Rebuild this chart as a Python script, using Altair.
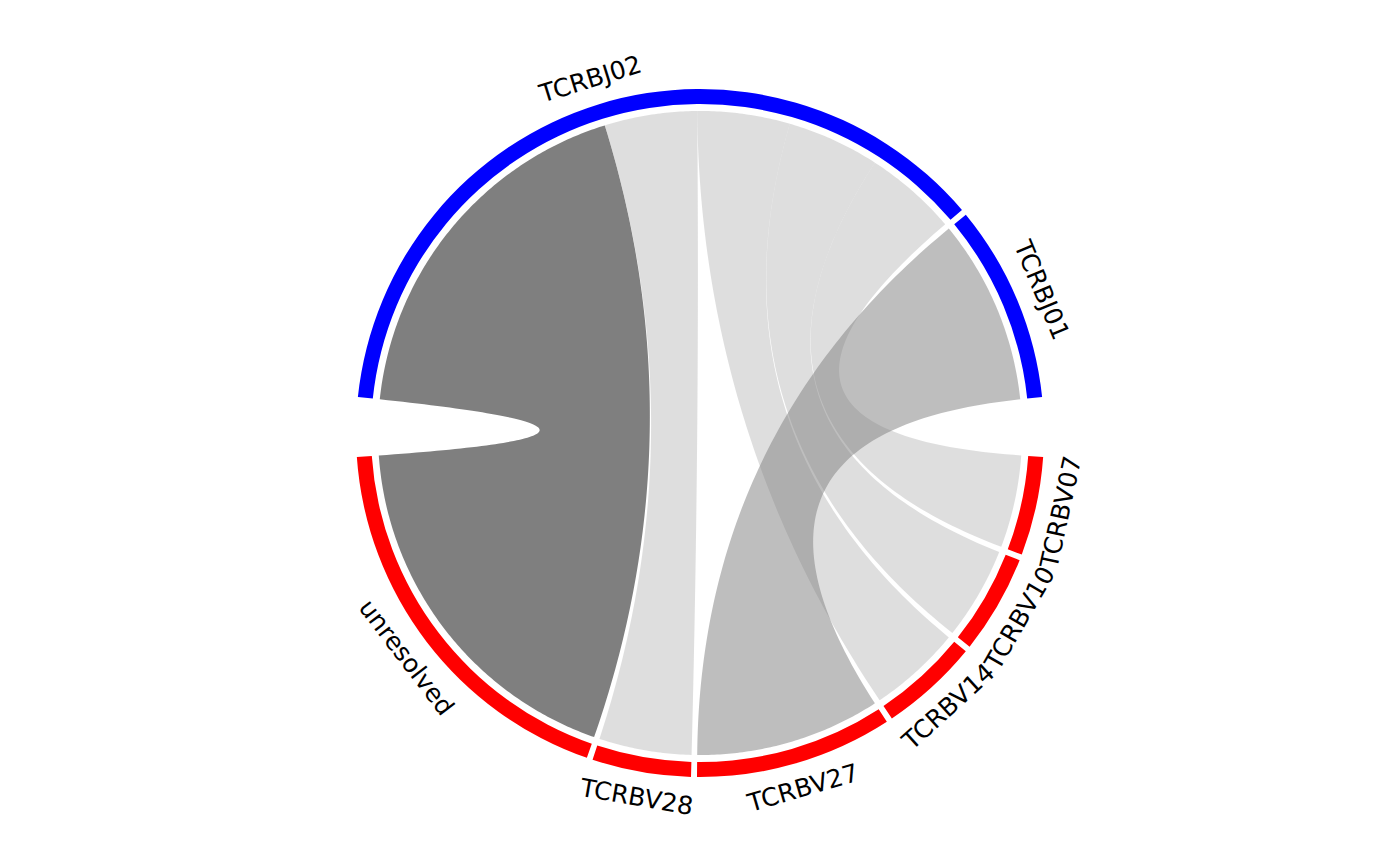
import math
import altair as alt
import pandas as pd

# ---------------- data ----------------
j_genes = ["TCRBJ02", "TCRBJ01"]
v_genes = ["TCRBV07", "TCRBV10", "TCRBV14", "TCRBV27", "TCRBV28", "unresolved"]
link_from = ["TCRBJ02", "TCRBJ02", "TCRBJ02", "TCRBJ02", "TCRBJ02", "TCRBJ01"]
link_to = ["unresolved", "TCRBV28", "TCRBV14", "TCRBV10", "TCRBV07", "TCRBV27"]
link_value = [4, 1, 1, 1, 1, 2]

# ---------------- layout (circlize-like) ----------------
BIG_GAP = 10.0
SMALL_GAP = 1.0
R_OUT = 344
R_IN = 329
R_LINK = 322
R_LABEL = 370

size = {}
for f, t, v in zip(link_from, link_to, link_value):
    size[f] = size.get(f, 0) + v
    size[t] = size.get(t, 0) + v
total = sum(link_value)
n_small = (len(j_genes) - 1) + (len(v_genes) - 1)
unit = (360 - 2 * BIG_GAP - n_small * SMALL_GAP) / (2 * total)

sectors = {}
def place(genes, center):
    span = sum(size[g] for g in genes) * unit + (len(genes) - 1) * SMALL_GAP
    cur = center + span / 2.0
    for g in genes:
        s = cur
        e = cur - size[g] * unit
        sectors[g] = (s, e)
        cur = e - SMALL_GAP

place(j_genes, 90.0)
place(v_genes, -90.0)

cursor = {g: sectors[g][0] for g in sectors}
def alloc(g, v):
    s = cursor[g]
    e = s - v * unit
    cursor[g] = e
    return s, e

def pt(r, deg):
    a = math.radians(deg)
    return r * math.cos(a), r * math.sin(a)

def arc_pts(r, a0, a1, step=0.5):
    n = max(2, int(abs(a1 - a0) / step) + 1)
    return [pt(r, a0 + (a1 - a0) * i / (n - 1)) for i in range(n)]

def bez(p0, p1, n=80):
    out = []
    for i in range(n + 1):
        t = i / n
        x = (1 - t) ** 2 * p0[0] + t ** 2 * p1[0]
        y = (1 - t) ** 2 * p0[1] + t ** 2 * p1[1]
        out.append((x, y))
    return out

rows = []
for k, (f, t, v) in enumerate(zip(link_from, link_to, link_value)):
    j0, j1 = alloc(f, v)
    v0, v1 = alloc(t, v)
    pts = arc_pts(R_LINK, j0, j1)
    pts += bez(pt(R_LINK, j1), pt(R_LINK, v0))[1:]
    pts += arc_pts(R_LINK, v0, v1)[1:]
    pts += bez(pt(R_LINK, v1), pt(R_LINK, j0))[1:]
    for i, (x, y) in enumerate(pts):
        rows.append({"link": k, "value": v, "idx": i, "x": x, "y": y})
chords = pd.DataFrame(rows)

track_rows = []
label_rows = []
for g, (s, e) in sectors.items():
    grp = "J" if g in j_genes else "V"
    track_rows.append({"sector": g, "grp": grp,
                       "t0": math.radians(450 - s), "t1": math.radians(450 - e)})
    mid = (s + e) / 2.0
    x, y = pt(R_LABEL, mid)
    ang = (90 - mid) if mid > 0 else (-90 - mid)
    label_rows.append({"sector": g, "x": x, "y": y, "angle": ang % 360})
tracks = pd.DataFrame(track_rows)
labels = pd.DataFrame(label_rows)

W, H = 1384, 850
xs = alt.Scale(domain=[-W / 2, W / 2], nice=False, zero=False)
ys = alt.Scale(domain=[-H / 2, H / 2], nice=False, zero=False)

layers = []
for k in range(len(link_value)):
    layers.append(
        alt.Chart(chords)
        .transform_filter(alt.datum.link == k)
        .mark_line(filled=True, opacity=0.5, strokeWidth=0)
        .encode(
            x=alt.X("x:Q", scale=xs, axis=None),
            y=alt.Y("y:Q", scale=ys, axis=None),
            order=alt.Order("idx:Q"),
            color=alt.Color("value:O",
                            scale=alt.Scale(domain=[1, 2, 4],
                                            range=["#bdbdbd", "#7d7d7d", "#000000"]),
                            legend=None),
        )
    )

track = alt.Chart(tracks).mark_arc(radius=R_OUT, radius2=R_IN).encode(
    theta=alt.Theta("t0:Q", scale=None),
    theta2=alt.Theta2("t1:Q"),
    color=alt.Color("grp:N", scale=alt.Scale(domain=["J", "V"], range=["#0000ff", "#ff0000"]),
                    legend=None),
)

text = alt.Chart(labels).mark_text(font="DejaVu Sans", fontSize=25, align="center",
                                   baseline="middle", color="black").encode(
    x=alt.X("x:Q", scale=xs, axis=None),
    y=alt.Y("y:Q", scale=ys, axis=None),
    angle=alt.Angle("angle:Q", scale=None),
    text="sector:N",
)

chart = alt.layer(*layers, track, text).resolve_scale(color="independent").properties(
    width=W, height=H, padding=0, autosize=alt.AutoSizeParams(type="none")
).configure_view(stroke=None)

chart.save("out.html", embed_options={"renderer": "svg", "actions": False})
